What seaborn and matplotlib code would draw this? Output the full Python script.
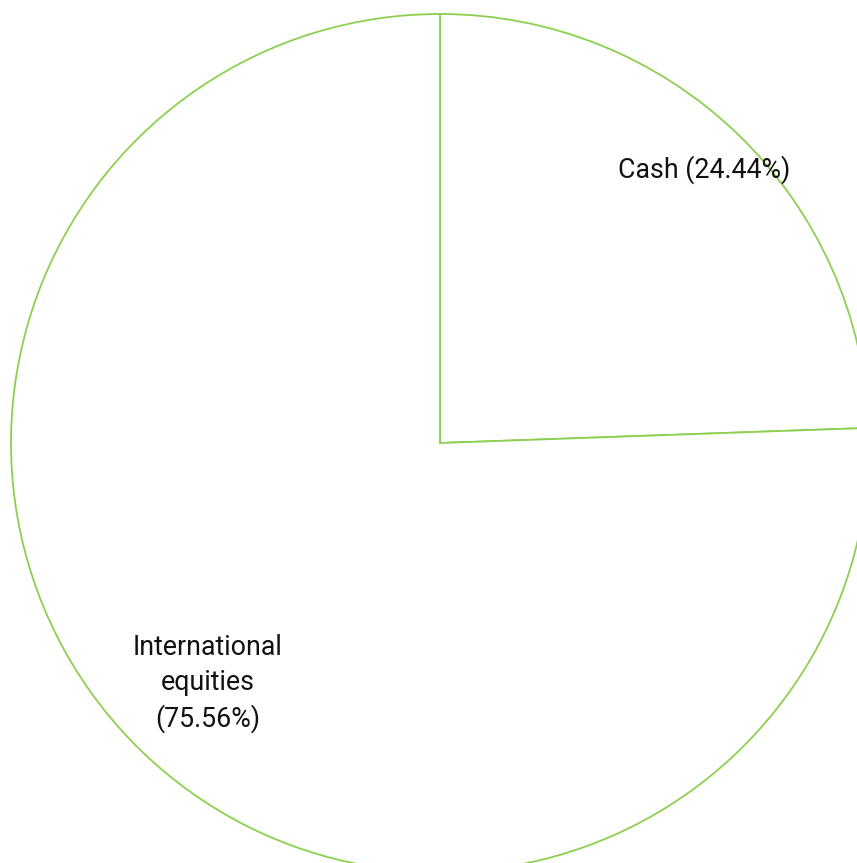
import numpy as np
import matplotlib
matplotlib.use("Agg")
import matplotlib.pyplot as plt
import seaborn as sns

categories = ["Cash", "International\nequities"]
shares = [24.44, 75.56]
label_dist = [0.885, 0.78]

sns.set_style("white")
plt.rcParams['font.family'] = ['Roboto', 'DejaVu Sans']

fig = plt.figure(figsize=(8.57, 8.63), dpi=100)
ax = fig.add_axes([0, 0, 1, 1])
edge = "#8cd050"
wedges, _ = ax.pie(shares, startangle=90, counterclock=False, radius=1,
                   colors=["white", "white"],
                   wedgeprops=dict(edgecolor=edge, linewidth=1.3))

# labels: one line for Cash, wrapped for the bigger slice
for w, name, val, d in zip(wedges, categories, shares, label_dist):
    mid = np.deg2rad((w.theta1 + w.theta2) / 2)
    sep = " " if "\n" not in name else "\n"
    lbl = f"{name}{sep}({val:.2f}%)"
    ax.text(d * np.cos(mid), d * np.sin(mid), lbl, ha="center", va="center",
            fontsize=19.3, color="#111111", linespacing=1.37)

ax.set_xlim(-440 / 429, 417 / 429)
ax.set_ylim(-420 / 429, 443 / 429)
ax.set_aspect("auto")
ax.axis("off")
fig.savefig("out.png", dpi=100, facecolor="white")
